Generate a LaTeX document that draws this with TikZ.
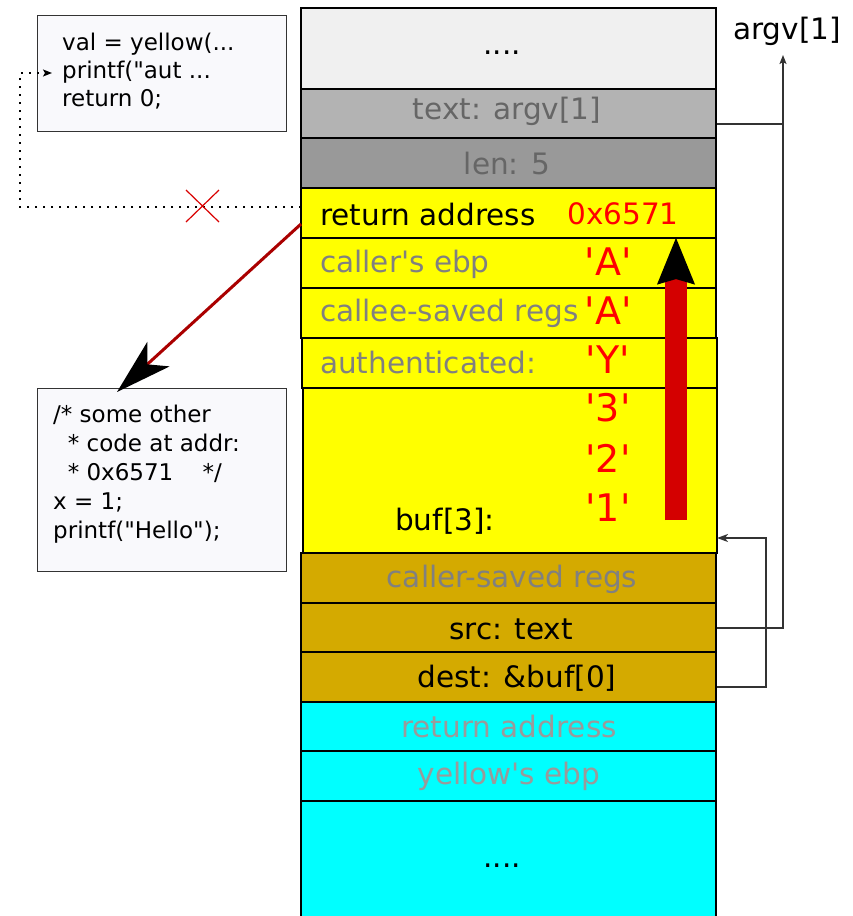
\documentclass[tikz,border=0pt]{standalone}
\usepackage{fontspec}
\setmainfont{DejaVu Sans}
\usetikzlibrary{arrows.meta}
\definecolor{cTop}{HTML}{F0F0F0}
\definecolor{cArg}{HTML}{B3B3B3}
\definecolor{cLen}{HTML}{999999}
\definecolor{cYel}{HTML}{FFFF00}
\definecolor{cGold}{HTML}{D4AA00}
\definecolor{cCyan}{HTML}{00FFFF}
\definecolor{cRed}{HTML}{FF0000}
\definecolor{cDRed}{HTML}{D40000}
\definecolor{cBrown}{HTML}{AA0000}
\definecolor{cTxtA}{HTML}{666666}
\definecolor{cTxtB}{HTML}{808080}
\definecolor{cTxtC}{HTML}{9A9A9A}
\definecolor{cCode}{HTML}{F9F9FC}
\definecolor{cLine}{HTML}{333333}
\newcommand{\sq}{\textquotesingle}
\newcommand{\dq}{\textquotedbl}
\tikzset{
  row/.style={draw=black, line width=1.8pt, rectangle, inner sep=0pt, minimum width=415pt},
  big/.style={font=\fontsize{29.5}{34}\selectfont, inner sep=0pt},
  redtxt/.style={font=\fontsize{38}{42}\selectfont, text=cRed, inner sep=0pt},
  codebox/.style={draw=cLine, line width=1.3pt, fill=cCode, rectangle, inner sep=0pt, minimum width=249pt, anchor=north west},
  code/.style={font=\fontsize{23}{28}\selectfont, align=left, inner sep=0pt, anchor=north west},
  conn/.style={draw=cLine, line width=1.5pt},
}
\begin{document}
\begin{tikzpicture}[x=1pt,y=-1pt]
\useasboundingbox (0,0) rectangle (852,916);
\clip (0,0) rectangle (852,916);
% stack rows
\node[row, fill=cTop, minimum height=81pt] (rTop) at (508.5,48.5) {};
\node[row, fill=cArg, minimum height=49pt] (rArg) at (508.5,113.5) {};
\node[row, fill=cLen, minimum height=50pt] (rLen) at (508.5,163) {};
\node[row, fill=cYel, minimum height=50pt] (rRet) at (508.5,213) {};
\node[row, fill=cYel, minimum height=50pt] (rEbp) at (508.5,263) {};
\node[row, fill=cYel, minimum height=50pt] (rCsr) at (508.5,313) {};
\node[row, fill=cYel, minimum height=50pt] (rAuth) at (509.5,363) {};
\node[row, fill=cYel, minimum height=165pt, minimum width=414pt] (rBuf) at (510,470.5) {};
\node[row, fill=cGold, minimum height=50pt] (rCsv) at (508.5,578) {};
\node[row, fill=cGold, minimum height=49pt] (rSrc) at (508.5,627.5) {};
\node[row, fill=cGold, minimum height=50pt] (rDst) at (508.5,677) {};
\node[row, fill=cCyan, minimum height=49pt] (rCRet) at (508.5,726.5) {};
\node[row, fill=cCyan, minimum height=50pt] (rYebp) at (508.5,776) {};
\node[row, fill=cCyan, minimum height=130pt] (rBot) at (508.5,866) {};
% row texts
\node[big] (tTop) at (502,53) {....};
\node[big, text=cTxtA] (tArg) at (507,111) {text: argv[1]};
\node[big, text=cTxtA] (tLen) at (507,163) {len: 5};
\node[big, anchor=west] (tRet) at (320,214) {return address};
\node[big, text=cRed] (tAddr) at (623,214) {0x6571};
\node[big, anchor=west, text=cTxtB] (tEbp) at (320,264) {caller\sq s ebp};
\node[big, anchor=west, text=cTxtB] (tCsr) at (320,313) {callee-saved regs};
\node[big, anchor=west, text=cTxtB] (tAuth) at (320,362) {authenticated:};
\node[big, anchor=west] (tBuf) at (395,521) {buf[3]:};
\node[big, text=cTxtB] (tCsv) at (512,579) {caller-saved regs};
\node[big] (tSrc) at (511,629) {src: text};
\node[big] (tDst) at (517,678) {dest: \&buf[0]};
\node[big, text=cTxtC] (tCRet) at (509,726) {return address};
\node[big, text=cTxtC] (tYebp) at (509,776) {yellow\sq s ebp};
\node[big] (tBot) at (502,866) {....};
% red overflow characters
\node[redtxt] (cA1) at (608,262) {\sq A\sq};
\node[redtxt] (cA2) at (608,311) {\sq A\sq};
\node[redtxt] (cY) at (608,360) {\sq Y\sq};
\node[redtxt] (c3) at (608,408) {\sq 3\sq};
\node[redtxt] (c2) at (608,458) {\sq 2\sq};
\node[redtxt] (c1) at (608,508) {\sq 1\sq};
% code boxes
\node[codebox, minimum height=116pt] (code1) at (37,15) {};
\node[code] (code1t) at (62,33) {val = yellow(...\\printf(\dq aut ...\\return 0;};
\node[codebox, minimum height=183pt] (code2) at (37,388) {};
\node[code, font=\fontsize{23}{29}\selectfont] (code2t) at (53,405) {/* some other\\\ \ * code at addr:\\\ \ * 0x6571\ \ \ \ */\\x = 1;\\printf(\dq Hello\dq );};
% argv label
\node[big, anchor=west] (argv) at (733,31) {argv[1]};
% right connectors
\coordinate (vA) at (783,55);
\draw[conn, -{Stealth[length=9pt,width=7pt,inset=2pt]}] (rArg.east |- 0,124) -- (783,124) -- (vA);
\draw[conn] (rSrc.east |- 0,628) -- (783,628) -- (783,124);
\coordinate (bufIn) at (717,538);
\draw[conn, -{Stealth[length=11pt,width=8pt,inset=3pt]}] (rDst.east |- 0,687) -- (766,687) -- (766,538) -- (bufIn);
% dotted return path
\coordinate (retL) at (301,207);
\coordinate (codeArr) at (52,73);
\draw[line width=1.5pt, dash pattern=on 2pt off 6pt, -{Stealth[length=9pt,width=7pt,inset=2pt]}] (retL) -- (20,207) -- (20,73) -- (codeArr);
\draw[cRed!85!black, line width=1.2pt] (186,190) -- (219,222) (186,222) -- (219,190);
% diagonal arrow to other code
\coordinate (retDiag) at (301,224);
\coordinate (codeTip) at (117,392);
\draw[cBrown, line width=3pt, -{Stealth[length=56pt,width=33pt,inset=15pt,black]}] (retDiag) -- (codeTip);
% overflow arrow
\coordinate (ovB) at (676,520);
\coordinate (ovT) at (676,237);
\draw[cDRed, line width=22pt, -{Stealth[length=46pt,width=35pt,inset=4pt,black]}] (ovB) -- (ovT);
\end{tikzpicture}
\end{document}
